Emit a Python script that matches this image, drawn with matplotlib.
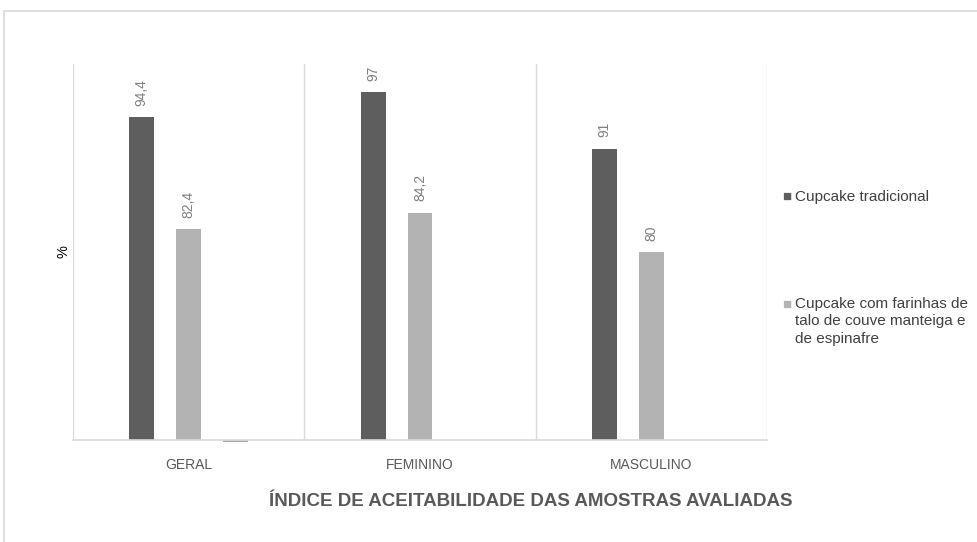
import numpy as np
import matplotlib.pyplot as plt
from matplotlib.patches import Rectangle

plt.rcParams['font.family'] = ['Liberation Sans', 'DejaVu Sans']

categories = ["GERAL", "FEMININO", "MASCULINO"]
tradicional = [94.4, 97, 91]
farinhas = [82.4, 84.2, 80]
terceira = [59.8, np.nan, np.nan]  # tiny stray bar under GERAL
labels_trad = ["94,4", "97", "91"]
labels_far = ["82,4", "84,2", "80"]
series_names = ["Cupcake tradicional",
                "Cupcake com farinhas de\ntalo de couve manteiga e\nde espinafre"]

ymin, ymax = 60, 100
c_dark = "#5e5e5e"
c_light = "#b3b3b3"
c_text = "#595959"
c_grid = "#d9d9d9"

fig = plt.figure(figsize=(9.77, 5.42), dpi=100)
fig.patches.append(Rectangle((4/977, -0.1), 1.2, 1 - 11/542 + 0.1, transform=fig.transFigure,
                             fill=False, edgecolor="#d9d9d9", lw=1.2))
ax = fig.add_axes([73/977, 102/542, 694/977, 376/542])

x = np.arange(len(categories))
w = 0.108
off = 0.203
b1 = ax.bar(x - off, np.array(tradicional) - ymin, bottom=ymin, width=w, color=c_dark)
b2 = ax.bar(x, np.array(farinhas) - ymin, bottom=ymin, width=w, color=c_light)
b3 = ax.bar(x + off, np.array(terceira) - ymin, bottom=ymin, width=w, color="#a5a5a5", clip_on=False)

for bars, labs in [(b1, labels_trad), (b2, labels_far)]:
    for r, lab in zip(bars, labs):
        ax.annotate(lab, (r.get_x() + r.get_width()/2, r.get_y() + r.get_height()),
                    xytext=(0, 8), textcoords="offset points", rotation=90,
                    ha="center", va="bottom", fontsize=10, color="#7f7f7f")

ax.set_xlim(-0.5, 2.5)
ax.set_ylim(ymin, ymax)
for xs in [-0.5, 0.5, 1.5, 2.5]:
    ax.axvline(xs, color=c_grid, lw=1, zorder=0)
ax.axhline(ymin, color=c_grid, lw=1.2, zorder=3, clip_on=False)
for s in ax.spines.values():
    s.set_visible(False)
ax.set_yticks([])
ax.set_xticks(x)
ax.set_xticklabels(categories, fontsize=10, color=c_text)
ax.tick_params(axis="x", length=0, pad=13)
ax.set_ylabel("%", fontsize=10.5, color="black", labelpad=2)

fig.text(531/977, 1 - 501/542, "ÍNDICE DE ACEITABILIDADE DAS AMOSTRAS AVALIADAS",
         fontsize=13.5, color=c_text, fontweight="bold", ha="center", va="center")

lx, tx = 782, 795
fig.text(lx/977, 1 - 197/542, "■", color=c_dark, fontsize=11, va="center", ha="left")
fig.text(tx/977, 1 - 197/542, series_names[0], color="#404040", fontsize=11, va="center", ha="left")
fig.text(lx/977, 1 - 305/542, "■", color=c_light, fontsize=11, va="center", ha="left")
fig.text(tx/977, 1 - 297/542, series_names[1], color="#404040", fontsize=11, va="top", ha="left",
         linespacing=1.3)

fig.savefig("out.png", dpi=100)
